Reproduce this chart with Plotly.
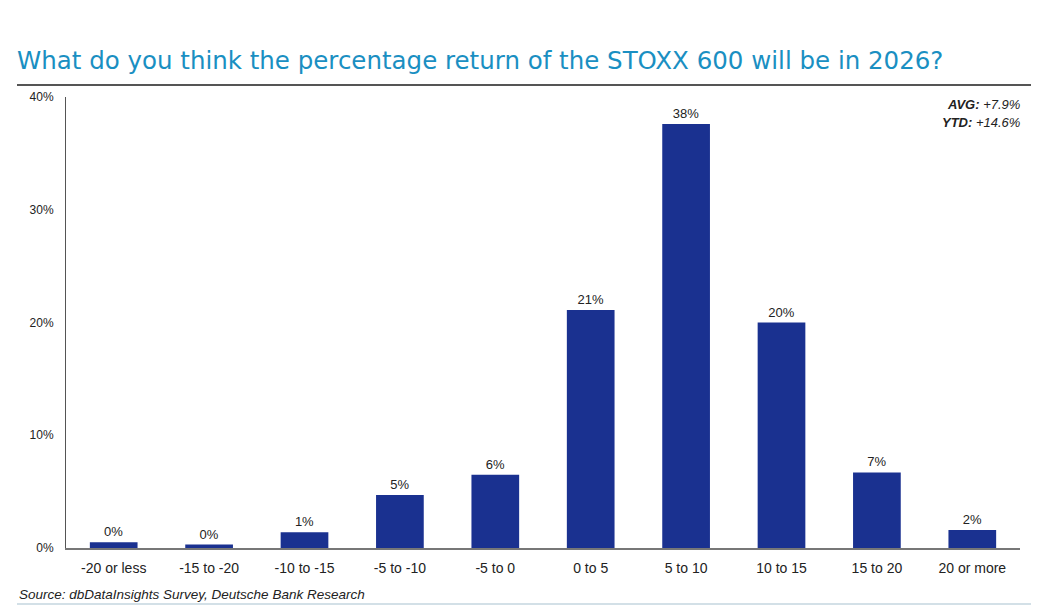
import plotly.graph_objects as go

categories = ["-20 or less", "-15 to -20", "-10 to -15", "-5 to -10", "-5 to 0",
              "0 to 5", "5 to 10", "10 to 15", "15 to 20", "20 or more"]
values = [0.5, 0.3, 1.4, 4.7, 6.5, 21.1, 37.6, 20.0, 6.7, 1.6]
labels = ["0%", "0%", "1%", "5%", "6%", "21%", "38%", "20%", "7%", "2%"]
tick_vals = [0, 10, 20, 30, 40]
tick_text = ["0%", "10%", "20%", "30%", "40%"]

W, H = 1046, 607
L, R, T, B = 66, 26, 97, 59
pw, ph = W - L - R, H - T - B

def px(x):
    return (x - L) / pw

def py(y):
    return (H - B - y) / ph

FONT = "Liberation Sans"

fig = go.Figure(go.Bar(
    x=categories, y=values, text=labels, textposition="outside",
    marker=dict(color="#1a3190", line=dict(width=0)),
    width=0.5, cliponaxis=False,
    textfont=dict(family=FONT, size=13, color="#222222"),
))

fig.update_layout(
    width=W, height=H,
    margin=dict(l=L, r=R, t=T, b=B),
    paper_bgcolor="white", plot_bgcolor="white",
    showlegend=False,
    font=dict(family=FONT, color="#222222"),
    title=dict(text="What do you think the percentage return of the STOXX 600 will be in 2026?",
               x=17 / W, xanchor="left", y=1 - 60 / H, yanchor="middle",
               font=dict(family="DejaVu Sans", size=24.5, color="#1a8fc2")),
    xaxis=dict(showline=True, linecolor="#777777", linewidth=2, ticks="",
               tickfont=dict(family=FONT, size=14, color="#222222"),
               ticklabelstandoff=6,
               showgrid=False, range=[-0.5, 9.5]),
    yaxis=dict(range=[0, 40], tickvals=tick_vals, ticktext=tick_text,
               showline=True, linecolor="#555555", linewidth=1, ticks="",
               ticklabelstandoff=9,
               showgrid=False, zeroline=False,
               tickfont=dict(family=FONT, size=12, color="#222222")),
    bargap=0.5,
)

fig.add_shape(type="line", xref="paper", yref="paper",
              x0=px(17), x1=px(1031), y0=py(85), y1=py(85),
              line=dict(color="#555555", width=2))
fig.add_shape(type="line", xref="paper", yref="paper",
              x0=px(17), x1=px(1031), y0=py(604), y1=py(604),
              line=dict(color="#c5d6df", width=1.5))

fig.add_annotation(xref="paper", yref="paper", x=px(1022), y=py(104),
                   xanchor="right", yanchor="middle", showarrow=False,
                   text="<b><i>AVG:</i></b><i> +7.9%</i>",
                   font=dict(family=FONT, size=13, color="#222222"))
fig.add_annotation(xref="paper", yref="paper", x=px(1022), y=py(123),
                   xanchor="right", yanchor="middle", showarrow=False,
                   text="<b><i>YTD:</i></b><i> +14.6%</i>",
                   font=dict(family=FONT, size=13, color="#222222"))
fig.add_annotation(xref="paper", yref="paper", x=px(17), y=py(594),
                   xanchor="left", yanchor="middle", showarrow=False,
                   text="<i>Source: dbDataInsights Survey, Deutsche Bank Research</i>",
                   font=dict(family=FONT, size=13.5, color="#222222"))

fig.write_html("out.html", config={"displayModeBar": False},
               post_script="document.body.style.margin='0';document.body.style.overflow='hidden';")
